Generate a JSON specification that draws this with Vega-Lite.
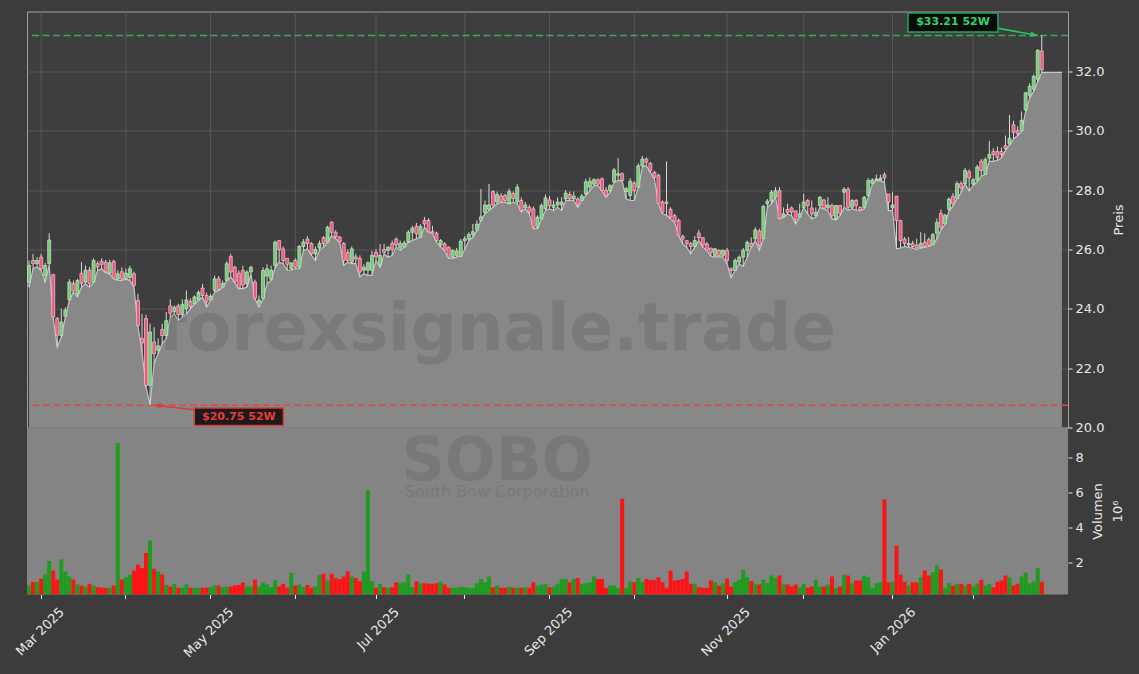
{
  "$schema": "https://vega.github.io/schema/vega-lite/v6.json",
  "background": "#3c3c3c",
  "padding": {"left": 13, "top": 8.5, "right": 12, "bottom": 24},
  "bounds": "flush",
  "config": {
    "font": "DejaVu Sans",
    "view": {"stroke": null},
    "axis": {"labelColor": "#e8e8e8", "titleColor": "#e8e8e8", "labelFontSize": 13, "titleFontSize": 13, "titleFontWeight": "normal", "tickColor": "#e8e8e8", "gridColor": "#5e5e5e", "gridWidth": 0.8, "domain": false}
  },
  "datasets": {
    "months": [
      {"d":"2025-03-03"},{"d":"2025-04-01"},{"d":"2025-05-01"},{"d":"2025-06-02"},{"d":"2025-07-01"},{"d":"2025-08-01"},
      {"d":"2025-09-02"},{"d":"2025-10-01"},{"d":"2025-11-03"},{"d":"2025-12-01"},{"d":"2026-01-02"},{"d":"2026-02-02"}
    ],
    "ohlc": [
      {"d":"2025-02-26","o":24.90,"h":25.63,"l":24.73,"c":25.46,"v":0.68},
      {"d":"2025-02-27","o":25.63,"h":25.85,"l":25.35,"c":25.52,"v":0.88},
      {"d":"2025-02-28","o":25.52,"h":25.75,"l":25.41,"c":25.63,"v":0.88},
      {"d":"2025-03-03","o":25.74,"h":25.85,"l":25.29,"c":25.35,"v":1.07},
      {"d":"2025-03-04","o":25.12,"h":25.55,"l":24.90,"c":25.46,"v":1.32},
      {"d":"2025-03-05","o":25.52,"h":26.55,"l":25.47,"c":26.32,"v":2.08},
      {"d":"2025-03-06","o":25.15,"h":25.18,"l":23.70,"c":23.72,"v":1.54},
      {"d":"2025-03-07","o":23.67,"h":23.72,"l":22.71,"c":23.11,"v":1.03},
      {"d":"2025-03-10","o":23.10,"h":24.00,"l":23.05,"c":23.55,"v":2.18},
      {"d":"2025-03-11","o":23.75,"h":24.05,"l":23.72,"c":23.95,"v":1.49},
      {"d":"2025-03-12","o":24.30,"h":25.00,"l":24.28,"c":24.90,"v":1.20},
      {"d":"2025-03-13","o":24.85,"h":24.95,"l":24.56,"c":24.60,"v":1.03},
      {"d":"2025-03-14","o":24.50,"h":25.01,"l":24.40,"c":24.95,"v":0.74},
      {"d":"2025-03-17","o":25.20,"h":25.57,"l":24.73,"c":24.85,"v":0.67},
      {"d":"2025-03-18","o":24.90,"h":25.46,"l":24.84,"c":25.30,"v":0.63},
      {"d":"2025-03-19","o":25.30,"h":25.41,"l":24.73,"c":24.85,"v":0.78},
      {"d":"2025-03-20","o":24.90,"h":25.70,"l":24.88,"c":25.63,"v":0.68},
      {"d":"2025-03-21","o":25.52,"h":25.60,"l":25.29,"c":25.41,"v":0.59},
      {"d":"2025-03-24","o":25.60,"h":25.70,"l":25.35,"c":25.50,"v":0.55},
      {"d":"2025-03-25","o":25.57,"h":25.65,"l":25.22,"c":25.25,"v":0.55},
      {"d":"2025-03-26","o":25.20,"h":25.65,"l":25.18,"c":25.55,"v":0.55},
      {"d":"2025-03-27","o":25.60,"h":25.65,"l":25.01,"c":25.03,"v":0.68},
      {"d":"2025-03-28","o":25.00,"h":25.30,"l":24.96,"c":25.18,"v":8.84},
      {"d":"2025-03-31","o":25.25,"h":25.40,"l":24.96,"c":25.01,"v":1.03},
      {"d":"2025-04-01","o":25.02,"h":25.35,"l":25.00,"c":25.20,"v":1.16},
      {"d":"2025-04-02","o":25.05,"h":25.45,"l":24.96,"c":25.35,"v":1.30},
      {"d":"2025-04-03","o":25.18,"h":25.25,"l":24.73,"c":24.79,"v":1.54},
      {"d":"2025-04-04","o":24.28,"h":24.50,"l":23.41,"c":23.44,"v":1.89},
      {"d":"2025-04-07","o":23.00,"h":23.83,"l":22.54,"c":22.85,"v":1.68},
      {"d":"2025-04-08","o":23.67,"h":23.80,"l":21.37,"c":21.42,"v":2.54},
      {"d":"2025-04-09","o":21.42,"h":23.50,"l":20.75,"c":23.22,"v":3.26},
      {"d":"2025-04-10","o":22.88,"h":23.38,"l":22.15,"c":22.49,"v":1.64},
      {"d":"2025-04-11","o":22.60,"h":23.00,"l":22.49,"c":22.75,"v":1.49},
      {"d":"2025-04-14","o":23.30,"h":23.50,"l":22.83,"c":23.10,"v":1.32},
      {"d":"2025-04-15","o":23.10,"h":23.89,"l":22.99,"c":23.60,"v":0.72},
      {"d":"2025-04-16","o":24.10,"h":24.32,"l":23.72,"c":23.85,"v":0.63},
      {"d":"2025-04-17","o":23.90,"h":24.12,"l":23.83,"c":24.05,"v":0.78},
      {"d":"2025-04-21","o":24.10,"h":24.17,"l":23.61,"c":23.80,"v":0.55},
      {"d":"2025-04-22","o":23.80,"h":24.32,"l":23.72,"c":24.15,"v":0.55},
      {"d":"2025-04-23","o":24.00,"h":24.62,"l":23.83,"c":24.30,"v":0.74},
      {"d":"2025-04-24","o":24.25,"h":24.35,"l":24.00,"c":24.08,"v":0.55},
      {"d":"2025-04-25","o":24.17,"h":24.45,"l":24.17,"c":24.40,"v":0.55},
      {"d":"2025-04-28","o":24.30,"h":24.62,"l":24.28,"c":24.55,"v":0.55},
      {"d":"2025-04-29","o":24.70,"h":24.84,"l":24.40,"c":24.45,"v":0.55},
      {"d":"2025-04-30","o":24.45,"h":24.55,"l":24.06,"c":24.23,"v":0.55},
      {"d":"2025-05-01","o":24.30,"h":24.50,"l":24.28,"c":24.42,"v":0.60},
      {"d":"2025-05-02","o":24.62,"h":25.12,"l":24.56,"c":25.01,"v":0.72},
      {"d":"2025-05-05","o":25.01,"h":25.10,"l":24.62,"c":24.65,"v":0.68},
      {"d":"2025-05-06","o":24.73,"h":24.95,"l":24.73,"c":24.85,"v":0.59},
      {"d":"2025-05-07","o":24.96,"h":25.60,"l":24.96,"c":25.52,"v":0.63},
      {"d":"2025-05-08","o":25.76,"h":25.85,"l":25.07,"c":25.24,"v":0.63},
      {"d":"2025-05-09","o":25.40,"h":25.45,"l":24.88,"c":24.92,"v":0.68},
      {"d":"2025-05-12","o":25.20,"h":25.30,"l":24.68,"c":24.70,"v":0.72},
      {"d":"2025-05-13","o":25.29,"h":25.45,"l":24.68,"c":24.80,"v":0.86},
      {"d":"2025-05-14","o":24.85,"h":25.30,"l":24.73,"c":25.24,"v":0.63},
      {"d":"2025-05-15","o":25.24,"h":25.45,"l":25.18,"c":25.40,"v":0.63},
      {"d":"2025-05-16","o":24.90,"h":24.98,"l":24.33,"c":24.35,"v":1.03},
      {"d":"2025-05-19","o":24.20,"h":24.45,"l":24.06,"c":24.30,"v":0.63},
      {"d":"2025-05-20","o":24.35,"h":25.40,"l":24.33,"c":25.29,"v":0.86},
      {"d":"2025-05-21","o":25.10,"h":25.50,"l":24.85,"c":25.35,"v":0.74},
      {"d":"2025-05-22","o":25.00,"h":25.46,"l":24.96,"c":25.30,"v":0.59},
      {"d":"2025-05-23","o":25.46,"h":26.30,"l":25.40,"c":26.25,"v":1.00},
      {"d":"2025-05-27","o":26.30,"h":26.30,"l":25.57,"c":26.00,"v":0.63},
      {"d":"2025-05-28","o":26.02,"h":26.10,"l":25.52,"c":25.63,"v":0.78},
      {"d":"2025-05-29","o":25.70,"h":25.70,"l":25.30,"c":25.50,"v":0.55},
      {"d":"2025-05-30","o":25.35,"h":25.55,"l":25.30,"c":25.55,"v":1.41},
      {"d":"2025-06-02","o":25.63,"h":25.70,"l":25.35,"c":25.40,"v":0.68},
      {"d":"2025-06-03","o":25.40,"h":26.15,"l":25.35,"c":26.10,"v":0.74},
      {"d":"2025-06-04","o":26.10,"h":26.35,"l":25.97,"c":26.25,"v":0.59},
      {"d":"2025-06-05","o":26.35,"h":26.45,"l":26.02,"c":26.20,"v":0.72},
      {"d":"2025-06-06","o":26.20,"h":26.25,"l":25.80,"c":25.85,"v":0.55},
      {"d":"2025-06-09","o":25.85,"h":26.10,"l":25.63,"c":26.00,"v":0.63},
      {"d":"2025-06-10","o":26.05,"h":26.30,"l":25.97,"c":26.20,"v":1.29},
      {"d":"2025-06-11","o":26.40,"h":26.45,"l":26.08,"c":26.20,"v":1.35},
      {"d":"2025-06-12","o":26.25,"h":26.80,"l":26.25,"c":26.75,"v":0.97},
      {"d":"2025-06-13","o":26.92,"h":26.95,"l":26.46,"c":26.58,"v":1.35},
      {"d":"2025-06-16","o":26.58,"h":26.65,"l":26.36,"c":26.42,"v":1.12},
      {"d":"2025-06-17","o":26.42,"h":26.45,"l":26.25,"c":26.26,"v":1.05},
      {"d":"2025-06-18","o":26.20,"h":26.25,"l":25.46,"c":25.63,"v":1.20},
      {"d":"2025-06-20","o":25.90,"h":26.00,"l":25.57,"c":25.63,"v":1.49},
      {"d":"2025-06-23","o":25.57,"h":26.10,"l":25.52,"c":26.02,"v":1.20},
      {"d":"2025-06-24","o":25.75,"h":25.85,"l":25.52,"c":25.68,"v":1.12},
      {"d":"2025-06-25","o":25.70,"h":25.80,"l":25.07,"c":25.24,"v":0.93},
      {"d":"2025-06-26","o":25.30,"h":25.50,"l":25.18,"c":25.40,"v":1.49},
      {"d":"2025-06-27","o":25.30,"h":25.60,"l":25.13,"c":25.55,"v":6.13},
      {"d":"2025-06-30","o":25.30,"h":25.95,"l":25.13,"c":25.80,"v":0.93},
      {"d":"2025-07-01","o":25.90,"h":26.00,"l":25.63,"c":25.75,"v":0.55},
      {"d":"2025-07-02","o":25.50,"h":26.19,"l":25.40,"c":25.80,"v":0.78},
      {"d":"2025-07-03","o":26.00,"h":26.19,"l":25.85,"c":25.90,"v":0.59},
      {"d":"2025-07-07","o":25.97,"h":26.10,"l":25.74,"c":26.08,"v":0.55},
      {"d":"2025-07-08","o":26.20,"h":26.30,"l":25.80,"c":26.00,"v":0.59},
      {"d":"2025-07-09","o":26.35,"h":26.41,"l":26.08,"c":26.15,"v":0.87},
      {"d":"2025-07-10","o":26.05,"h":26.30,"l":25.97,"c":26.20,"v":0.82},
      {"d":"2025-07-11","o":26.08,"h":26.30,"l":26.08,"c":26.22,"v":0.87},
      {"d":"2025-07-14","o":26.25,"h":26.65,"l":26.24,"c":26.58,"v":1.31},
      {"d":"2025-07-15","o":26.58,"h":26.80,"l":26.30,"c":26.72,"v":0.59},
      {"d":"2025-07-16","o":26.78,"h":26.90,"l":26.36,"c":26.53,"v":0.93},
      {"d":"2025-07-17","o":26.42,"h":26.85,"l":26.41,"c":26.78,"v":0.82},
      {"d":"2025-07-18","o":26.98,"h":27.10,"l":26.75,"c":26.86,"v":0.82},
      {"d":"2025-07-21","o":26.98,"h":27.05,"l":26.58,"c":26.60,"v":0.78},
      {"d":"2025-07-22","o":26.60,"h":26.80,"l":26.53,"c":26.55,"v":0.78},
      {"d":"2025-07-23","o":26.55,"h":26.60,"l":26.25,"c":26.30,"v":0.82},
      {"d":"2025-07-24","o":26.15,"h":26.35,"l":26.08,"c":26.30,"v":0.91},
      {"d":"2025-07-25","o":26.19,"h":26.25,"l":25.97,"c":25.98,"v":0.74},
      {"d":"2025-07-28","o":26.08,"h":26.10,"l":25.70,"c":25.74,"v":0.55},
      {"d":"2025-07-29","o":25.74,"h":26.00,"l":25.70,"c":25.97,"v":0.55},
      {"d":"2025-07-30","o":25.80,"h":26.05,"l":25.74,"c":25.95,"v":0.55},
      {"d":"2025-07-31","o":25.77,"h":26.35,"l":25.77,"c":26.28,"v":0.62},
      {"d":"2025-08-01","o":26.30,"h":26.45,"l":26.00,"c":26.36,"v":0.59},
      {"d":"2025-08-04","o":26.35,"h":26.58,"l":26.30,"c":26.50,"v":0.55},
      {"d":"2025-08-05","o":26.50,"h":26.86,"l":26.41,"c":26.60,"v":0.55},
      {"d":"2025-08-06","o":26.65,"h":26.98,"l":26.64,"c":26.85,"v":0.82},
      {"d":"2025-08-07","o":26.98,"h":28.04,"l":26.98,"c":27.10,"v":1.06},
      {"d":"2025-08-08","o":27.25,"h":27.65,"l":27.20,"c":27.50,"v":0.87},
      {"d":"2025-08-11","o":27.35,"h":28.21,"l":27.31,"c":27.50,"v":1.20},
      {"d":"2025-08-12","o":27.95,"h":28.00,"l":27.42,"c":27.50,"v":0.59},
      {"d":"2025-08-13","o":27.60,"h":27.95,"l":27.54,"c":27.85,"v":0.68},
      {"d":"2025-08-14","o":27.80,"h":27.90,"l":27.59,"c":27.60,"v":0.55},
      {"d":"2025-08-15","o":27.82,"h":27.88,"l":27.59,"c":27.65,"v":0.55},
      {"d":"2025-08-18","o":27.54,"h":28.05,"l":27.54,"c":27.95,"v":0.62},
      {"d":"2025-08-19","o":27.88,"h":27.95,"l":27.59,"c":27.72,"v":0.55},
      {"d":"2025-08-20","o":27.60,"h":28.20,"l":27.54,"c":28.10,"v":0.55},
      {"d":"2025-08-21","o":27.65,"h":27.75,"l":27.26,"c":27.31,"v":0.55},
      {"d":"2025-08-22","o":27.40,"h":27.60,"l":27.37,"c":27.50,"v":0.59},
      {"d":"2025-08-25","o":27.42,"h":27.50,"l":27.20,"c":27.26,"v":0.55},
      {"d":"2025-08-26","o":27.37,"h":27.45,"l":26.70,"c":26.75,"v":0.87},
      {"d":"2025-08-27","o":26.75,"h":27.15,"l":26.70,"c":27.09,"v":0.68},
      {"d":"2025-08-28","o":27.03,"h":27.55,"l":27.03,"c":27.48,"v":0.74},
      {"d":"2025-08-29","o":27.37,"h":27.85,"l":27.31,"c":27.74,"v":0.78},
      {"d":"2025-09-02","o":27.67,"h":27.80,"l":27.37,"c":27.48,"v":0.59},
      {"d":"2025-09-03","o":27.42,"h":27.65,"l":27.31,"c":27.50,"v":0.62},
      {"d":"2025-09-04","o":27.50,"h":27.75,"l":27.42,"c":27.60,"v":0.78},
      {"d":"2025-09-05","o":27.50,"h":27.76,"l":27.31,"c":27.60,"v":1.06},
      {"d":"2025-09-08","o":27.70,"h":28.00,"l":27.65,"c":27.90,"v":1.06},
      {"d":"2025-09-09","o":27.85,"h":27.95,"l":27.65,"c":27.70,"v":0.87},
      {"d":"2025-09-10","o":27.70,"h":27.95,"l":27.65,"c":27.80,"v":1.06},
      {"d":"2025-09-11","o":27.70,"h":27.76,"l":27.42,"c":27.50,"v":1.12},
      {"d":"2025-09-12","o":27.65,"h":27.87,"l":27.65,"c":27.80,"v":0.78},
      {"d":"2025-09-15","o":27.87,"h":28.38,"l":27.82,"c":28.28,"v":0.82},
      {"d":"2025-09-16","o":28.10,"h":28.43,"l":27.98,"c":28.30,"v":0.87},
      {"d":"2025-09-17","o":28.20,"h":28.40,"l":28.15,"c":28.35,"v":1.20},
      {"d":"2025-09-18","o":28.35,"h":28.40,"l":28.15,"c":28.20,"v":1.06},
      {"d":"2025-09-19","o":28.38,"h":28.43,"l":27.98,"c":27.99,"v":1.06},
      {"d":"2025-09-22","o":28.00,"h":28.10,"l":27.76,"c":27.80,"v":0.55},
      {"d":"2025-09-23","o":27.98,"h":28.20,"l":27.93,"c":28.15,"v":0.68},
      {"d":"2025-09-24","o":28.28,"h":28.75,"l":28.27,"c":28.68,"v":0.68},
      {"d":"2025-09-25","o":28.50,"h":29.08,"l":28.32,"c":28.55,"v":0.55},
      {"d":"2025-09-26","o":28.55,"h":28.60,"l":28.32,"c":28.33,"v":5.65},
      {"d":"2025-09-29","o":27.95,"h":28.10,"l":27.70,"c":28.05,"v":0.55},
      {"d":"2025-09-30","o":27.82,"h":28.40,"l":27.65,"c":28.30,"v":0.91},
      {"d":"2025-10-01","o":28.24,"h":28.30,"l":27.65,"c":27.98,"v":0.87},
      {"d":"2025-10-02","o":28.10,"h":28.90,"l":28.08,"c":28.82,"v":1.12},
      {"d":"2025-10-03","o":28.82,"h":29.15,"l":28.77,"c":29.05,"v":0.87},
      {"d":"2025-10-06","o":29.05,"h":29.10,"l":28.82,"c":28.94,"v":1.06},
      {"d":"2025-10-07","o":28.90,"h":28.95,"l":28.60,"c":28.66,"v":1.00},
      {"d":"2025-10-08","o":28.60,"h":28.65,"l":28.38,"c":28.43,"v":1.00},
      {"d":"2025-10-09","o":28.50,"h":28.55,"l":27.54,"c":27.55,"v":1.16},
      {"d":"2025-10-10","o":27.60,"h":27.65,"l":27.20,"c":27.26,"v":0.87},
      {"d":"2025-10-13","o":27.60,"h":28.97,"l":27.15,"c":27.55,"v":0.55},
      {"d":"2025-10-14","o":27.35,"h":27.42,"l":27.03,"c":27.09,"v":1.54},
      {"d":"2025-10-15","o":27.14,"h":27.20,"l":26.92,"c":26.93,"v":0.97},
      {"d":"2025-10-16","o":26.98,"h":27.05,"l":26.47,"c":26.48,"v":1.00},
      {"d":"2025-10-17","o":26.45,"h":26.50,"l":26.19,"c":26.35,"v":1.06},
      {"d":"2025-10-20","o":26.30,"h":26.30,"l":26.08,"c":26.20,"v":1.48},
      {"d":"2025-10-21","o":26.20,"h":26.25,"l":25.85,"c":26.10,"v":0.78},
      {"d":"2025-10-22","o":26.10,"h":26.45,"l":26.08,"c":26.30,"v":0.78},
      {"d":"2025-10-23","o":26.55,"h":26.66,"l":26.30,"c":26.40,"v":0.59},
      {"d":"2025-10-24","o":26.40,"h":26.41,"l":26.08,"c":26.15,"v":0.55},
      {"d":"2025-10-27","o":26.19,"h":26.25,"l":25.97,"c":25.98,"v":0.55},
      {"d":"2025-10-28","o":26.05,"h":26.05,"l":25.77,"c":25.90,"v":0.97},
      {"d":"2025-10-29","o":25.80,"h":26.05,"l":25.74,"c":26.02,"v":0.87},
      {"d":"2025-10-30","o":25.97,"h":26.00,"l":25.77,"c":25.80,"v":0.68},
      {"d":"2025-10-31","o":25.80,"h":26.00,"l":25.74,"c":25.97,"v":0.82},
      {"d":"2025-11-03","o":25.96,"h":26.05,"l":25.52,"c":25.63,"v":1.07},
      {"d":"2025-11-04","o":25.35,"h":25.40,"l":25.05,"c":25.29,"v":0.63},
      {"d":"2025-11-05","o":25.29,"h":25.70,"l":25.29,"c":25.63,"v":0.88},
      {"d":"2025-11-06","o":25.57,"h":25.80,"l":25.52,"c":25.74,"v":1.01},
      {"d":"2025-11-07","o":25.74,"h":26.05,"l":25.43,"c":25.97,"v":1.59},
      {"d":"2025-11-10","o":25.97,"h":26.30,"l":25.74,"c":26.24,"v":1.17},
      {"d":"2025-11-11","o":26.20,"h":26.41,"l":26.08,"c":26.10,"v":0.94},
      {"d":"2025-11-12","o":26.36,"h":26.75,"l":26.30,"c":26.66,"v":0.78},
      {"d":"2025-11-13","o":26.62,"h":26.70,"l":25.97,"c":26.14,"v":0.74},
      {"d":"2025-11-14","o":26.36,"h":27.50,"l":26.36,"c":27.45,"v":1.01},
      {"d":"2025-11-17","o":27.54,"h":27.70,"l":27.42,"c":27.63,"v":0.82},
      {"d":"2025-11-18","o":27.63,"h":28.00,"l":27.54,"c":27.93,"v":1.26},
      {"d":"2025-11-19","o":27.76,"h":28.10,"l":27.76,"c":27.98,"v":1.13},
      {"d":"2025-11-20","o":27.98,"h":28.10,"l":27.03,"c":27.04,"v":1.26},
      {"d":"2025-11-21","o":27.10,"h":27.42,"l":27.09,"c":27.20,"v":0.74},
      {"d":"2025-11-24","o":27.35,"h":27.54,"l":27.20,"c":27.25,"v":0.74},
      {"d":"2025-11-25","o":27.40,"h":27.45,"l":27.14,"c":27.26,"v":0.63},
      {"d":"2025-11-26","o":27.30,"h":27.31,"l":26.86,"c":27.00,"v":0.74},
      {"d":"2025-11-28","o":27.09,"h":27.54,"l":27.09,"c":27.20,"v":0.59},
      {"d":"2025-12-01","o":27.42,"h":27.87,"l":27.42,"c":27.60,"v":0.78},
      {"d":"2025-12-02","o":27.65,"h":27.70,"l":27.20,"c":27.48,"v":0.55},
      {"d":"2025-12-03","o":27.40,"h":27.65,"l":27.03,"c":27.20,"v":0.63},
      {"d":"2025-12-04","o":27.14,"h":27.42,"l":27.09,"c":27.25,"v":1.01},
      {"d":"2025-12-05","o":27.48,"h":27.80,"l":27.42,"c":27.76,"v":0.63},
      {"d":"2025-12-08","o":27.67,"h":27.70,"l":27.37,"c":27.38,"v":0.63},
      {"d":"2025-12-09","o":27.40,"h":27.76,"l":27.31,"c":27.50,"v":0.74},
      {"d":"2025-12-10","o":27.48,"h":27.55,"l":27.03,"c":27.14,"v":1.20},
      {"d":"2025-12-11","o":27.03,"h":27.50,"l":27.00,"c":27.48,"v":0.55},
      {"d":"2025-12-12","o":27.48,"h":27.50,"l":27.14,"c":27.22,"v":0.63},
      {"d":"2025-12-15","o":27.93,"h":28.10,"l":27.42,"c":28.03,"v":1.30},
      {"d":"2025-12-16","o":28.03,"h":28.10,"l":27.33,"c":27.42,"v":1.26},
      {"d":"2025-12-17","o":27.42,"h":27.70,"l":27.37,"c":27.65,"v":0.82},
      {"d":"2025-12-18","o":27.65,"h":27.70,"l":27.33,"c":27.48,"v":0.97},
      {"d":"2025-12-19","o":27.42,"h":27.45,"l":27.31,"c":27.32,"v":0.97},
      {"d":"2025-12-22","o":27.42,"h":27.80,"l":27.37,"c":27.76,"v":1.26},
      {"d":"2025-12-23","o":27.82,"h":28.40,"l":27.76,"c":28.32,"v":1.17},
      {"d":"2025-12-24","o":28.23,"h":28.40,"l":28.20,"c":28.34,"v":0.55},
      {"d":"2025-12-26","o":28.33,"h":28.52,"l":28.32,"c":28.38,"v":0.82},
      {"d":"2025-12-29","o":28.34,"h":28.52,"l":28.32,"c":28.40,"v":0.88},
      {"d":"2025-12-30","o":28.52,"h":28.60,"l":28.26,"c":28.41,"v":5.60},
      {"d":"2025-12-31","o":27.87,"h":27.87,"l":27.31,"c":27.60,"v":0.87},
      {"d":"2026-01-02","o":27.40,"h":27.93,"l":27.31,"c":27.50,"v":0.90},
      {"d":"2026-01-05","o":27.80,"h":27.80,"l":26.02,"c":26.97,"v":2.97},
      {"d":"2026-01-06","o":26.97,"h":27.00,"l":26.05,"c":26.30,"v":1.31},
      {"d":"2026-01-07","o":26.35,"h":26.42,"l":26.10,"c":26.20,"v":0.90},
      {"d":"2026-01-08","o":26.15,"h":26.42,"l":26.08,"c":26.20,"v":0.68},
      {"d":"2026-01-09","o":26.20,"h":26.29,"l":26.04,"c":26.10,"v":0.87},
      {"d":"2026-01-12","o":26.15,"h":26.36,"l":26.00,"c":26.05,"v":0.87},
      {"d":"2026-01-13","o":26.06,"h":26.58,"l":26.04,"c":26.20,"v":1.16},
      {"d":"2026-01-14","o":26.25,"h":26.54,"l":26.08,"c":26.10,"v":1.54},
      {"d":"2026-01-15","o":26.33,"h":26.40,"l":26.10,"c":26.14,"v":1.25},
      {"d":"2026-01-16","o":26.17,"h":26.55,"l":26.17,"c":26.50,"v":1.44},
      {"d":"2026-01-20","o":26.54,"h":27.04,"l":26.35,"c":26.91,"v":1.83},
      {"d":"2026-01-21","o":27.22,"h":27.35,"l":26.66,"c":26.75,"v":1.60},
      {"d":"2026-01-22","o":26.86,"h":27.20,"l":26.85,"c":27.16,"v":0.55},
      {"d":"2026-01-23","o":27.35,"h":27.75,"l":27.29,"c":27.70,"v":0.83},
      {"d":"2026-01-26","o":27.79,"h":27.90,"l":27.47,"c":27.54,"v":0.68},
      {"d":"2026-01-27","o":27.72,"h":28.30,"l":27.72,"c":28.22,"v":0.78},
      {"d":"2026-01-28","o":28.22,"h":28.30,"l":27.91,"c":28.07,"v":0.78},
      {"d":"2026-01-29","o":28.22,"h":28.75,"l":28.22,"c":28.66,"v":0.68},
      {"d":"2026-01-30","o":28.62,"h":28.70,"l":27.97,"c":28.41,"v":0.78},
      {"d":"2026-02-02","o":28.20,"h":28.40,"l":28.16,"c":28.35,"v":0.64},
      {"d":"2026-02-03","o":28.34,"h":28.85,"l":28.28,"c":28.78,"v":0.78},
      {"d":"2026-02-04","o":28.97,"h":29.05,"l":28.47,"c":28.66,"v":1.02},
      {"d":"2026-02-05","o":28.53,"h":29.10,"l":28.53,"c":29.03,"v":0.68},
      {"d":"2026-02-06","o":29.07,"h":29.66,"l":28.97,"c":29.20,"v":0.78},
      {"d":"2026-02-09","o":29.30,"h":29.41,"l":28.97,"c":29.20,"v":0.58},
      {"d":"2026-02-10","o":29.30,"h":29.47,"l":29.00,"c":29.10,"v":0.90},
      {"d":"2026-02-11","o":29.30,"h":29.44,"l":29.09,"c":29.20,"v":0.97},
      {"d":"2026-02-12","o":29.50,"h":29.84,"l":29.34,"c":29.40,"v":1.25},
      {"d":"2026-02-13","o":29.55,"h":30.53,"l":29.53,"c":29.75,"v":1.16},
      {"d":"2026-02-17","o":30.20,"h":30.34,"l":29.72,"c":29.95,"v":0.68},
      {"d":"2026-02-18","o":30.00,"h":30.15,"l":29.84,"c":29.90,"v":0.78},
      {"d":"2026-02-19","o":30.00,"h":30.65,"l":29.97,"c":30.35,"v":1.20},
      {"d":"2026-02-20","o":30.70,"h":31.30,"l":30.65,"c":31.28,"v":1.43},
      {"d":"2026-02-23","o":31.20,"h":31.60,"l":31.09,"c":31.50,"v":0.81},
      {"d":"2026-02-24","o":31.40,"h":31.90,"l":31.34,"c":31.83,"v":0.90},
      {"d":"2026-02-25","o":31.74,"h":32.75,"l":31.65,"c":32.71,"v":1.69},
      {"d":"2026-02-26","o":32.69,"h":33.21,"l":31.97,"c":32.05,"v":0.90},
      {"d":"2026-02-27","l":31.97},
      {"d":"2026-03-02","l":31.97},
      {"d":"2026-03-03","l":31.97},
      {"d":"2026-03-04","l":31.97},
      {"d":"2026-03-05","l":31.97}
    ]
  },
  "resolve": {"scale": {"x": "shared"}},
  "spacing": 0,
  "vconcat": [
    {
      "width": 1041,
      "height": 416,
      "view": {"fill": "#3e3e3e", "stroke": "#a0a0a0", "strokeWidth": 1},
      "data": {"name": "ohlc"},
      "layer": [
        {
          "data": {"name": "months"},
          "mark": {"type": "rule", "color": "#5e5e5e", "strokeWidth": 0.8},
          "encoding": {
            "x": {"field": "d", "type": "ordinal", "axis": null}
          }
        },
        {
          "mark": {"type": "area", "color": "#888888", "opacity": 1, "line": {"color": "#c4c4c4", "strokeWidth": 1.2}},
          "encoding": {
            "x": {"field": "d", "type": "ordinal", "scale": {"type": "band", "paddingInner": 0, "paddingOuter": 0, "domain": {"unionWith": ["2026-03-06"]}}, "axis": null},
            "y": {"field": "l", "type": "quantitative", "scale": {"domain": [20, 34.02], "zero": false, "nice": false},
              "axis": {"orient": "right", "values": [20, 22, 24, 26, 28, 30, 32], "format": ".1f", "grid": true, "tickSize": 4, "labelPadding": 3, "title": "Preis", "titleAngle": 270, "titleBaseline": "top", "titlePadding": 9}},
            "y2": {"datum": 20}
          }
        },
        {
          "data": {"values": [{}]},
          "mark": {"type": "text", "text": "forexsignale.trade", "fontSize": 65, "fontWeight": "bold", "color": "#2a2a2a", "opacity": 0.14, "align": "center", "baseline": "alphabetic"},
          "encoding": {
            "x": {"datum": "2025-08-13", "type": "ordinal"},
            "y": {"datum": 22.6, "type": "quantitative"}
          }
        },
        {
          "data": {"values": [{}]},
          "mark": {"type": "rule", "color": "#3aa862", "strokeWidth": 1.5, "strokeDash": [7, 3.5]},
          "encoding": {"y": {"datum": 33.21, "type": "quantitative"}}
        },
        {
          "data": {"values": [{}]},
          "mark": {"type": "rule", "color": "#d94848", "strokeWidth": 1.5, "strokeDash": [7, 3.5]},
          "encoding": {"y": {"datum": 20.75, "type": "quantitative"}}
        },
        {
          "transform": [{"filter": "isValid(datum.h)"}],
          "mark": {"type": "rule", "color": "#d8d8d8", "strokeWidth": 1},
          "encoding": {
            "x": {"field": "d", "type": "ordinal"},
            "y": {"field": "l", "type": "quantitative"},
            "y2": {"field": "h"}
          }
        },
        {
          "transform": [{"filter": "isValid(datum.o)"}],
          "mark": {"type": "bar", "size": 3, "strokeWidth": 0.7},
          "encoding": {
            "x": {"field": "d", "type": "ordinal"},
            "y": {"field": "o", "type": "quantitative"},
            "y2": {"field": "c"},
            "fill": {"condition": {"test": "datum.c >= datum.o", "value": "#78c878"}, "value": "#e85a80"},
            "stroke": {"condition": {"test": "datum.c >= datum.o", "value": "#c8eec8"}, "value": "#ffc4d0"}
          }
        },
        {
          "data": {"values": [{}]},
          "mark": {"type": "rule", "color": "#2ec262", "strokeWidth": 1.6},
          "encoding": {
            "x": {"datum": "2026-02-10", "type": "ordinal"}, "x2": {"datum": "2026-02-25"},
            "y": {"datum": 33.46, "type": "quantitative"}, "y2": {"datum": 33.21}
          }
        },
        {
          "data": {"values": [{}]},
          "mark": {"type": "point", "shape": "M0,0L-1,-0.4L-1,0.4Z", "size": 196, "filled": true, "color": "#2ec262", "opacity": 1, "angle": 10},
          "encoding": {
            "x": {"datum": "2026-02-25", "type": "ordinal"},
            "y": {"datum": 33.21, "type": "quantitative"}
          }
        },
        {
          "data": {"values": [{}]},
          "mark": {"type": "rule", "color": "#e03a3a", "strokeWidth": 1.6},
          "encoding": {
            "x": {"datum": "2025-04-25", "type": "ordinal"}, "x2": {"datum": "2025-04-10"},
            "y": {"datum": 20.6, "type": "quantitative"}, "y2": {"datum": 20.75}
          }
        },
        {
          "data": {"values": [{}]},
          "mark": {"type": "point", "shape": "M0,0L-1,-0.4L-1,0.4Z", "size": 196, "filled": true, "color": "#e03a3a", "opacity": 1, "angle": 186},
          "encoding": {
            "x": {"datum": "2025-04-10", "type": "ordinal"},
            "y": {"datum": 20.75, "type": "quantitative"}
          }
        },
        {
          "data": {"values": [{}]},
          "mark": {"type": "point", "shape": "M-1,-0.211H1V0.211H-1Z", "size": 8100, "filled": true, "fill": "#0b0b0b", "stroke": "#27a55a", "strokeWidth": 1.5, "opacity": 1},
          "encoding": {
            "x": {"datum": "2026-01-26", "type": "ordinal"},
            "y": {"datum": 33.65, "type": "quantitative"}
          }
        },
        {
          "data": {"values": [{}]},
          "mark": {"type": "text", "text": "$33.21 52W", "fontSize": 11, "fontWeight": "bold", "color": "#34d46c", "align": "center", "baseline": "middle"},
          "encoding": {
            "x": {"datum": "2026-01-26", "type": "ordinal"},
            "y": {"datum": 33.65, "type": "quantitative"}
          }
        },
        {
          "data": {"values": [{}]},
          "mark": {"type": "point", "shape": "M-1,-0.196H1V0.196H-1Z", "size": 7921, "filled": true, "fill": "#1c1a1a", "stroke": "#d83a3a", "strokeWidth": 1.5, "opacity": 1},
          "encoding": {
            "x": {"datum": "2025-05-12", "type": "ordinal"},
            "y": {"datum": 20.36, "type": "quantitative"}
          }
        },
        {
          "data": {"values": [{}]},
          "mark": {"type": "text", "text": "$20.75 52W", "fontSize": 11, "fontWeight": "bold", "color": "#e83c3c", "align": "center", "baseline": "middle"},
          "encoding": {
            "x": {"datum": "2025-05-12", "type": "ordinal"},
            "y": {"datum": 20.36, "type": "quantitative"}
          }
        }
      ]
    },
    {
      "width": 1041,
      "height": 167,
      "view": {"fill": "#848484", "stroke": null},
      "data": {"name": "ohlc"},
      "layer": [
        {
          "transform": [{"filter": "isValid(datum.v)"}],
          "mark": {"type": "bar", "size": 4, "clip": true},
          "encoding": {
            "x": {"field": "d", "type": "ordinal", "scale": {"type": "band", "paddingInner": 0, "paddingOuter": 0},
              "axis": {"values": ["2025-03-03","2025-04-01","2025-05-01","2025-06-02","2025-07-01","2025-08-01","2025-09-02","2025-10-01","2025-11-03","2025-12-01","2026-01-02","2026-02-02"], "grid": false, "ticks": true, "tickSize": 4, "domain": false, "title": null, "bandPosition": 0.5,
                "labelExpr": "utcmonth(toDate(datum.value)) % 2 == 0 ? utcFormat(toDate(datum.value), '%b %Y') : ''",
                "labelAngle": -45, "labelAlign": "right", "labelBaseline": "middle", "labelPadding": 11, "labelOffset": 21}},
            "y": {"field": "v", "type": "quantitative", "stack": null, "scale": {"domain": [0.17, 9.72], "zero": false, "nice": false},
              "axis": {"orient": "right", "values": [2, 4, 6, 8], "format": "d", "grid": false, "tickSize": 4, "labelPadding": 3, "title": ["Volumen", "10⁶"], "titleAngle": 270, "titleBaseline": "top", "titlePadding": -12, "titleLineHeight": 20}},
            "color": {"condition": {"test": "datum.c >= datum.o", "value": "#1f9b1f"}, "value": "#fb1414"}
          }
        },
        {
          "data": {"values": [{}]},
          "mark": {"type": "text", "text": "SOBO", "fontSize": 60, "fontWeight": "bold", "color": "#2a2a2a", "opacity": 0.12, "align": "center", "baseline": "alphabetic"},
          "encoding": {
            "x": {"datum": "2025-08-13", "type": "ordinal"},
            "y": {"datum": 6.7, "type": "quantitative"}
          }
        },
        {
          "data": {"values": [{}]},
          "mark": {"type": "text", "text": "South Bow Corporation", "fontSize": 16, "color": "#2a2a2a", "opacity": 0.12, "align": "center", "baseline": "alphabetic"},
          "encoding": {
            "x": {"datum": "2025-08-13", "type": "ordinal"},
            "y": {"datum": 5.74, "type": "quantitative"}
          }
        }
      ]
    }
  ]
}
